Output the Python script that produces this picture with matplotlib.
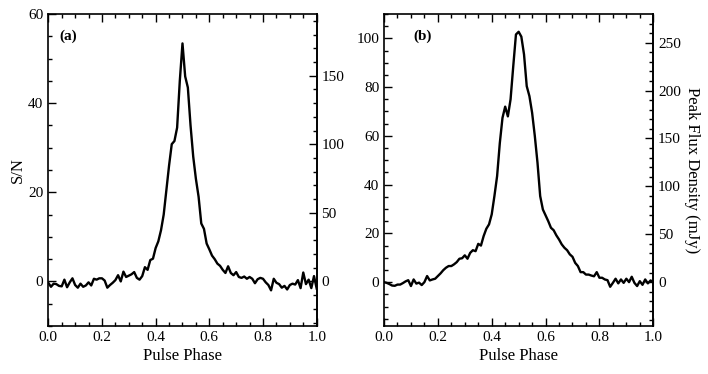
import numpy as np
import matplotlib
matplotlib.use("Agg")
import matplotlib.pyplot as plt
from matplotlib.ticker import MultipleLocator, FixedLocator

# ======================================================
# Data
# ======================================================

phase = np.linspace(0.0, 1.0, 101)

# panel (a): S/N profile
snr_a = [
    -0.3, -1.2, -0.5, -0.6, -1.0, -1.1, 0.4, -1.3, -0.2, 0.7,
    -0.8, -1.4, -0.5, -1.2, -0.9, -0.2, -0.9, 0.6, 0.4, 0.7,
    0.7, 0.2, -1.4, -0.8, -0.3, 0.3, 1.4, 0.0, 2.2, 1.0,
    1.3, 1.6, 2.1, 0.8, 0.4, 1.2, 3.2, 2.6, 4.8, 5.1,
    7.5, 9.0, 11.5, 15.0, 20.5, 26.0, 30.8, 31.5, 34.5, 45.0,
    53.4, 46.0, 43.5, 35.0, 28.0, 23.0, 19.0, 13.0, 11.8, 8.5,
    7.2, 5.8, 5.0, 4.0, 3.5, 2.6, 1.9, 3.4, 1.9, 1.4,
    2.1, 1.0, 0.8, 1.1, 0.6, 1.0, 0.6, -0.4, 0.5, 0.8,
    0.6, -0.2, -0.8, -2.0, 0.6, -0.3, -0.6, -1.4, -1.0, -1.8,
    -0.8, -0.5, -0.7, 0.3, -1.5, 2.0, -0.6, 0.4, -1.5, 1.2,
    -1.6,
]

# panel (b): S/N profile
snr_b = [
    0.0, -0.3, -0.8, -1.4, -1.5, -1.0, -1.0, -0.4, 0.3, 0.8,
    -1.6, 1.1, -0.6, -0.2, -1.2, 0.0, 2.5, 0.7, 1.1, 1.4,
    2.5, 3.6, 4.9, 5.9, 6.6, 6.6, 7.3, 8.2, 9.6, 9.8,
    11.0, 9.6, 12.0, 13.1, 12.7, 15.7, 15.0, 18.9, 21.9, 23.7,
    27.8, 35.3, 43.5, 57.0, 67.4, 72.0, 68.0, 75.0, 88.6, 101.6,
    102.7, 100.7, 93.4, 80.4, 76.3, 69.5, 60.0, 49.0, 35.3, 29.8,
    27.4, 25.0, 22.3, 21.3, 19.2, 17.5, 15.5, 14.1, 13.1, 11.4,
    10.4, 7.9, 6.6, 4.1, 4.1, 3.1, 3.1, 2.7, 2.4, 4.1,
    1.8, 1.8, 1.1, 0.8, -1.9, -0.3, 1.4, -0.5, 1.1, -0.3,
    1.4, 0.0, 2.2, -0.3, -1.6, 0.4, -1.1, 1.1, -0.5, 0.7,
    0.0,
]

# S/N -> mJy conversion for the right-hand axes
SCALE_A = 3.25
SCALE_B = 2.545

FLUX_TICKS_A = [0, 50, 100, 150]
FLUX_TICKS_B = [0, 50, 100, 150, 200, 250]

# ======================================================
# Style
# ======================================================

plt.rcParams["font.family"] = ["Liberation Serif", "DejaVu Serif"]

TICK_SIZE = 11
LABEL_SIZE = 12


def style_axis(ax):
    ax.set_xlim(0.0, 1.0)
    ax.xaxis.set_major_locator(MultipleLocator(0.2))
    ax.xaxis.set_minor_locator(MultipleLocator(0.05))
    ax.yaxis.set_minor_locator(MultipleLocator(5))
    ax.tick_params(which="both", direction="in", top=True, right=False,
                   labelsize=TICK_SIZE, width=1.0)
    ax.tick_params(which="major", length=6)
    ax.tick_params(which="minor", length=3)
    ax.set_xticks(np.arange(0, 1.01, 0.2))
    ax.set_xticklabels([f"{t:.1f}" for t in np.arange(0, 1.01, 0.2)])
    for sp in ax.spines.values():
        sp.set_linewidth(1.2)
    ax.set_xlabel("Pulse Phase", fontsize=LABEL_SIZE, labelpad=3)


def add_flux_axis(ax, scale, ticks):
    sec = ax.secondary_yaxis(
        "right",
        functions=(lambda s: s * scale, lambda f: f / scale),
    )
    sec.yaxis.set_major_locator(FixedLocator(ticks))
    sec.yaxis.set_minor_locator(MultipleLocator(10))
    sec.tick_params(which="both", direction="in", labelsize=TICK_SIZE, width=1.0)
    sec.tick_params(which="major", length=6)
    sec.tick_params(which="minor", length=3)
    sec.spines["right"].set_linewidth(1.2)
    return sec


# ======================================================
# Plot
# ======================================================

fig = plt.figure(figsize=(7.08, 3.74), dpi=100)

ax_a = fig.add_axes([0.0682, 0.1283, 0.3791, 0.8343])
ax_b = fig.add_axes([0.5424, 0.1283, 0.3803, 0.8343])

# --- panel (a)
ax_a.plot(phase, snr_a, color="black", linewidth=1.7)
style_axis(ax_a)
ax_a.set_ylim(-10, 60)
ax_a.set_yticks([0, 20, 40, 60])
ax_a.set_ylabel("S/N", fontsize=LABEL_SIZE, labelpad=2)
add_flux_axis(ax_a, SCALE_A, FLUX_TICKS_A)
ax_a.text(0.04, 0.93, "(a)", transform=ax_a.transAxes,
          fontsize=11, fontweight="bold", va="center", ha="left")

# --- panel (b)
ax_b.plot(phase, snr_b, color="black", linewidth=1.7)
style_axis(ax_b)
ax_b.set_ylim(-18, 110)
ax_b.set_yticks([0, 20, 40, 60, 80, 100])
sec_b = add_flux_axis(ax_b, SCALE_B, FLUX_TICKS_B)
sec_b.set_ylabel("Peak Flux Density (mJy)", fontsize=LABEL_SIZE,
                 rotation=270, labelpad=14)
ax_b.text(0.11, 0.93, "(b)", transform=ax_b.transAxes,
          fontsize=11, fontweight="bold", va="center", ha="left")

fig.savefig("out.png", dpi=100)
